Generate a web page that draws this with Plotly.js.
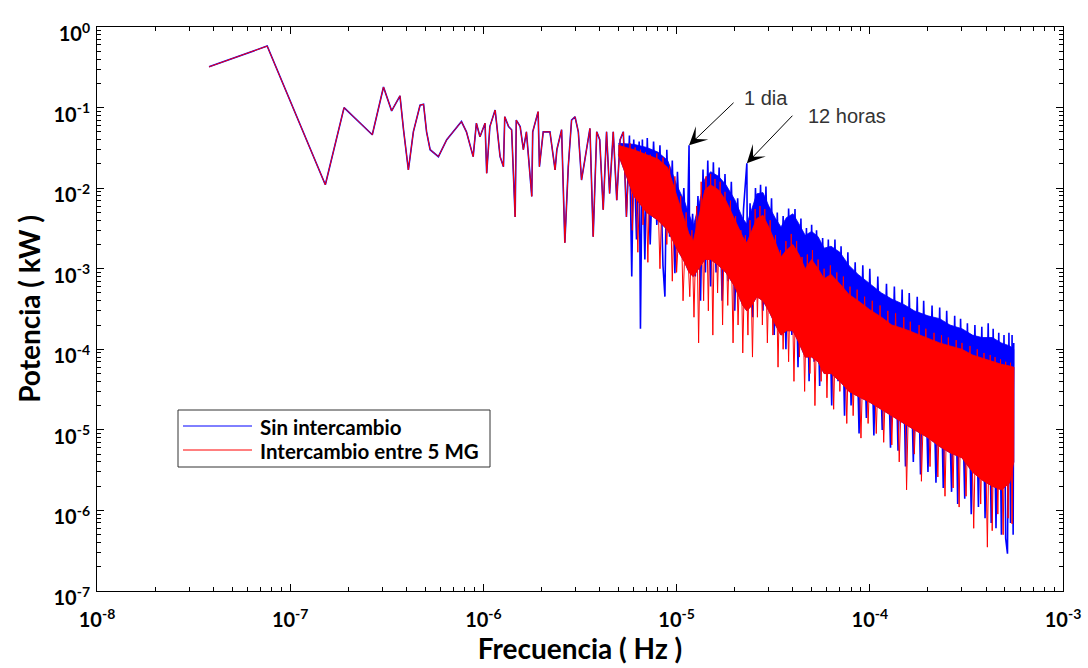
<!DOCTYPE html>
<html>
<head>
<meta charset="utf-8">
<script src="https://cdn.plot.ly/plotly-3.0.1.min.js"></script>
<style>html,body{margin:0;padding:0;background:#fff;}#chart{width:1088px;height:668px;}</style>
</head>
<body>
<div id="chart"></div>
<script>
// ---- data ----
const seriesNames = ['Sin intercambio', 'Intercambio entre 5 MG'];
const xTickVals = [1e-8, 1e-7, 1e-6, 1e-5, 1e-4, 1e-3];
const xTickText = ['10<sup>-8</sup>', '10<sup>-7</sup>', '10<sup>-6</sup>', '10<sup>-5</sup>', '10<sup>-4</sup>', '10<sup>-3</sup>'];
const yTickVals = [1e-7, 1e-6, 1e-5, 1e-4, 1e-3, 1e-2, 1e-1, 1];
const yTickText = ['10<sup>-7</sup>', '10<sup>-6</sup>', '10<sup>-5</sup>', '10<sup>-4</sup>', '10<sup>-3</sup>', '10<sup>-2</sup>', '10<sup>-1</sup>', '10<sup>0</sup>'];

// low-frequency part, where both series coincide
const lowF = [3.8e-8, 7.6e-8, 1.52e-7, 1.9e-7, 2.66e-7, 3.04e-7, 3.35e-7, 3.7e-7, 3.86e-7, 4.09e-7, 4.34e-7, 4.7e-7, 4.9e-7, 5.08e-7, 5.3e-7, 5.85e-7, 6.46e-7, 6.98e-7, 7.7e-7, 8.17e-7, 8.5e-7, 8.85e-7, 9.2e-7, 9.6e-7, 1.02e-6, 1.04e-6, 1.08e-6, 1.15e-6, 1.17e-6, 1.22e-6, 1.27e-6, 1.29e-6, 1.35e-6, 1.4e-6, 1.46e-6, 1.48e-6, 1.55e-6, 1.61e-6, 1.67e-6, 1.78e-6, 1.8e-6, 1.92e-6, 1.95e-6, 2.04e-6, 2.21e-6, 2.35e-6, 2.4e-6, 2.54e-6, 2.64e-6, 2.75e-6, 2.86e-6, 2.98e-6, 3.1e-6, 3.22e-6, 3.35e-6, 3.56e-6, 3.7e-6, 3.86e-6, 4.0e-6, 4.17e-6, 4.34e-6, 4.5e-6, 4.7e-6, 4.9e-6, 5.1e-6, 5.3e-6];
const lowP = [0.32, 0.58, 0.011, 0.10, 0.046, 0.18, 0.091, 0.14, 0.053, 0.0168, 0.05, 0.107, 0.11, 0.05, 0.030, 0.0246, 0.040, 0.05, 0.067, 0.05, 0.036, 0.0246, 0.064, 0.0435, 0.064, 0.0153, 0.058, 0.093, 0.064, 0.0246, 0.0185, 0.077, 0.058, 0.053, 0.0044, 0.070, 0.058, 0.030, 0.05, 0.0079, 0.05, 0.089, 0.0185, 0.05, 0.05, 0.0168, 0.030, 0.053, 0.0021, 0.0185, 0.070, 0.077, 0.05, 0.0126, 0.0224, 0.055, 0.0025, 0.05, 0.040, 0.0054, 0.05, 0.0086, 0.05, 0.0071, 0.04, 0.05];

// dense part, "Sin intercambio" (blue)
const sinF = [5.5e-6, 5.7e-6, 5.86e-6, 6.0e-6, 6.2e-6, 6.4e-6, 6.5e-6, 6.65e-6, 6.85e-6, 7.05e-6, 7.3e-6, 7.6e-6, 7.9e-6, 8.2e-6, 8.5e-6, 8.7e-6, 8.9e-6, 9.2e-6, 9.5e-6, 9.8e-6, 1.01e-5, 1.05e-5, 1.09e-5, 1.13e-5, 1.16e-5, 1.17e-5, 1.21e-5, 1.25e-5, 1.29e-5, 1.33e-5, 1.37e-5, 1.41e-5, 1.45e-5, 1.5e-5, 1.55e-5, 1.6e-5, 1.66e-5, 1.72e-5, 1.78e-5, 1.85e-5, 1.92e-5, 2.0e-5, 2.07e-5, 2.15e-5, 2.22e-5, 2.31e-5, 2.33e-5, 2.4e-5, 2.48e-5, 2.56e-5, 2.64e-5, 2.72e-5, 2.8e-5, 2.9e-5, 3.0e-5, 3.1e-5, 3.2e-5, 3.32e-5, 3.44e-5, 3.56e-5, 3.68e-5, 3.8e-5, 3.95e-5, 4.1e-5, 4.25e-5, 4.4e-5, 4.55e-5, 4.7e-5, 4.85e-5, 5.0e-5, 5.15e-5, 5.3e-5, 5.5e-5, 5.7e-5, 5.9e-5, 6.1e-5, 6.35e-5, 6.6e-5, 6.85e-5, 7.1e-5, 7.4e-5, 7.7e-5, 8.0e-5, 8.4e-5, 8.8e-5, 9.2e-5, 9.6e-5, 1.0e-4, 1.05e-4, 1.1e-4, 1.16e-4, 1.22e-4, 1.28e-4, 1.34e-4, 1.4e-4, 1.47e-4, 1.53e-4, 1.6e-4, 1.68e-4, 1.76e-4, 1.83e-4, 1.9e-4, 2.0e-4, 2.1e-4, 2.2e-4, 2.3e-4, 2.4e-4, 2.5e-4, 2.65e-4, 2.75e-4, 2.85e-4, 2.95e-4, 3.1e-4, 3.2e-4, 3.35e-4, 3.5e-4, 3.65e-4, 3.8e-4, 3.95e-4, 4.1e-4, 4.25e-4, 4.35e-4, 4.5e-4, 4.65e-4, 4.8e-4, 4.95e-4, 5.05e-4, 5.16e-4, 5.25e-4, 5.35e-4, 5.45e-4, 5.52e-4, 5.56e-4];
const sinP = [0.0044, 0.045, 0.0008, 0.04, 0.0023, 0.038, 0.00018, 0.04, 0.0013, 0.042, 0.002, 0.038, 0.0035, 0.034, 0.0011, 0.00045, 0.03, 0.0025, 0.022, 0.00088, 0.016, 0.0015, 0.01, 0.0012, 0.034, 0.0009, 0.0048, 0.0008, 0.008, 0.0004, 0.017, 0.0009, 0.022, 0.0006, 0.021, 0.0009, 0.018, 0.0004, 0.015, 0.0007, 0.012, 0.0003, 0.0075, 0.0005, 0.0055, 0.0204, 0.0004, 0.0065, 0.00025, 0.01, 0.0005, 0.011, 0.0003, 0.0105, 0.0004, 0.0075, 0.00015, 0.005, 0.0002, 0.0045, 0.0001, 0.0056, 0.00015, 0.0055, 0.00006, 0.0042, 0.00009, 0.0032, 0.00004, 0.0035, 0.00007, 0.003, 0.000035, 0.0024, 0.00005, 0.0023, 0.00002, 0.0023, 0.00004, 0.0019, 0.000015, 0.0016, 0.00002, 0.0012, 0.000009, 0.0011, 0.000014, 0.001, 0.0000085, 0.0008, 0.00001, 0.00065, 0.000006, 0.0006, 0.0000055, 0.00055, 0.0000035, 0.0005, 0.000004, 0.00045, 0.0000028, 0.0004, 0.000003, 0.00035, 0.0000022, 0.00033, 0.0000019, 0.0003, 0.0000017, 0.00026, 0.0000012, 0.00024, 0.0000014, 0.00021, 0.0000009, 0.0002, 0.0000011, 0.00019, 0.0000008, 0.00021, 0.0000007, 0.00018, 0.0000006, 0.00016, 0.0000005, 0.00015, 0.00000045, 0.00000029, 0.00016, 0.0000007, 0.00015, 0.0000005, 0.00012];

// dense part, "Intercambio entre 5 MG" (red)
const conF = [5.5e-6, 5.74e-6, 5.9e-6, 6.1e-6, 6.3e-6, 6.5e-6, 6.7e-6, 6.9e-6, 7.1e-6, 7.3e-6, 7.6e-6, 7.9e-6, 8.2e-6, 8.5e-6, 8.9e-6, 9.2e-6, 9.5e-6, 9.8e-6, 1.0e-5, 1.05e-5, 1.08e-5, 1.12e-5, 1.17e-5, 1.2e-5, 1.23e-5, 1.27e-5, 1.3e-5, 1.34e-5, 1.38e-5, 1.42e-5, 1.46e-5, 1.5e-5, 1.54e-5, 1.58e-5, 1.63e-5, 1.68e-5, 1.73e-5, 1.78e-5, 1.84e-5, 1.9e-5, 1.96e-5, 2.02e-5, 2.08e-5, 2.15e-5, 2.2e-5, 2.27e-5, 2.34e-5, 2.4e-5, 2.47e-5, 2.55e-5, 2.62e-5, 2.7e-5, 2.78e-5, 2.86e-5, 2.95e-5, 3.05e-5, 3.15e-5, 3.25e-5, 3.35e-5, 3.45e-5, 3.56e-5, 3.68e-5, 3.8e-5, 3.92e-5, 4.05e-5, 4.18e-5, 4.32e-5, 4.46e-5, 4.6e-5, 4.75e-5, 4.9e-5, 5.05e-5, 5.2e-5, 5.4e-5, 5.6e-5, 5.8e-5, 6.0e-5, 6.25e-5, 6.5e-5, 6.75e-5, 7.0e-5, 7.3e-5, 7.6e-5, 7.9e-5, 8.2e-5, 8.6e-5, 9.0e-5, 9.4e-5, 9.8e-5, 1.03e-4, 1.08e-4, 1.13e-4, 1.18e-4, 1.24e-4, 1.3e-4, 1.36e-4, 1.42e-4, 1.5e-4, 1.55e-4, 1.62e-4, 1.7e-4, 1.8e-4, 1.85e-4, 1.95e-4, 2.05e-4, 2.15e-4, 2.25e-4, 2.35e-4, 2.45e-4, 2.55e-4, 2.7e-4, 2.8e-4, 2.9e-4, 3.0e-4, 3.15e-4, 3.3e-4, 3.45e-4, 3.6e-4, 3.75e-4, 3.9e-4, 4.06e-4, 4.2e-4, 4.3e-4, 4.45e-4, 4.6e-4, 4.75e-4, 4.9e-4, 5.05e-4, 5.2e-4, 5.35e-4, 5.45e-4, 5.56e-4];
const conP = [0.0044, 0.036, 0.003, 0.032, 0.0016, 0.03, 0.0035, 0.028, 0.0012, 0.026, 0.0054, 0.027, 0.001, 0.024, 0.002, 0.019, 0.0007, 0.014, 0.0009, 0.008, 0.0004, 0.005, 0.00045, 0.003, 0.00025, 0.006, 0.00012, 0.012, 0.0004, 0.014, 0.0003, 0.015, 0.00015, 0.013, 0.0005, 0.012, 0.0002, 0.009, 0.00035, 0.007, 0.00012, 0.0045, 0.0002, 0.003, 0.00009, 0.0026, 0.00015, 0.004, 0.00008, 0.0055, 0.00025, 0.006, 0.0002, 0.0055, 0.00012, 0.004, 0.00015, 0.0026, 0.00006, 0.0017, 0.0001, 0.0022, 0.00007, 0.0027, 0.00004, 0.0022, 0.00008, 0.0014, 0.00003, 0.0015, 0.00005, 0.0017, 0.00002, 0.0013, 0.00004, 0.001, 0.000025, 0.0011, 0.000018, 0.0009, 0.00003, 0.0008, 0.000012, 0.0006, 0.000015, 0.00055, 0.0000079, 0.00045, 0.000012, 0.0004, 0.000009, 0.00035, 0.000007, 0.0003, 0.0000065, 0.00028, 0.000004, 0.00025, 0.0000018, 0.00022, 0.000005, 0.0002, 0.0000023, 0.00018, 0.0000035, 0.00016, 0.0000026, 0.00015, 0.0000015, 0.00014, 0.0000019, 0.00013, 0.0000011, 0.00012, 0.0000015, 0.00011, 0.0000006, 0.0001, 0.0000012, 0.00009, 0.00000035, 0.000085, 0.00000056, 0.00008, 0.0000009, 0.000075, 0.0000005, 0.00007, 0.0000008, 0.000068, 0.00000068, 0.00006];

// solid core of the dense band (upper edge of each colour, lower edge of the red band)
const bandF = [5e-6, 6e-6, 7e-6, 8e-6, 9e-6, 1.0e-5, 1.1e-5, 1.16e-5, 1.22e-5, 1.3e-5, 1.4e-5, 1.5e-5, 1.65e-5, 1.8e-5, 2.0e-5, 2.2e-5, 2.31e-5, 2.45e-5, 2.6e-5, 2.8e-5, 3.0e-5, 3.25e-5, 3.47e-5, 3.7e-5, 4.0e-5, 4.3e-5, 4.63e-5, 5.0e-5, 5.4e-5, 5.8e-5, 6.3e-5, 7.0e-5, 7.8e-5, 8.7e-5, 1.0e-4, 1.15e-4, 1.3e-4, 1.5e-4, 1.7e-4, 2.0e-4, 2.3e-4, 2.6e-4, 3.0e-4, 3.4e-4, 3.8e-4, 4.3e-4, 4.8e-4, 5.3e-4, 5.56e-4];
const sinHi = [0.036, 0.035, 0.032, 0.028, 0.022, 0.011, 0.0068, 0.0048, 0.0034, 0.006, 0.013, 0.016, 0.014, 0.011, 0.0072, 0.0042, 0.0036, 0.0055, 0.0085, 0.0088, 0.006, 0.0042, 0.0033, 0.0043, 0.0048, 0.0036, 0.0026, 0.0029, 0.0025, 0.0018, 0.0019, 0.0016, 0.0011, 0.00085, 0.00065, 0.0005, 0.00042, 0.00036, 0.0003, 0.00026, 0.00024, 0.0002, 0.00018, 0.00015, 0.00014, 0.00014, 0.00012, 0.00011, 0.0001];
const conHi = [0.034, 0.03, 0.026, 0.023, 0.018, 0.008, 0.0038, 0.0027, 0.0022, 0.0042, 0.0095, 0.011, 0.0095, 0.007, 0.004, 0.0025, 0.0021, 0.003, 0.0042, 0.0046, 0.0033, 0.0021, 0.0014, 0.0017, 0.002, 0.0015, 0.001, 0.0013, 0.001, 0.00075, 0.00085, 0.00065, 0.00048, 0.0004, 0.00031, 0.00025, 0.0002, 0.00018, 0.00016, 0.00014, 0.00012, 0.00011, 0.0001, 0.000085, 0.000078, 0.00007, 0.000065, 0.000062, 0.00006];
const conLo = [0.026, 0.008, 0.005, 0.004, 0.003, 0.0018, 0.0012, 0.0009, 0.0008, 0.001, 0.0013, 0.0013, 0.0011, 0.0009, 0.0006, 0.00035, 0.0003, 0.00035, 0.00045, 0.0004, 0.0003, 0.0002, 0.00015, 0.00017, 0.00017, 0.00012, 0.00008, 0.00008, 0.00007, 0.00005, 0.00005, 0.00004, 0.00003, 0.000026, 0.000022, 0.000018, 0.000015, 0.000012, 0.00001, 0.000008, 0.0000062, 0.0000052, 0.0000045, 0.000003, 0.0000024, 0.000002, 0.0000018, 0.0000022, 0.000004];

// labelled peaks (frequency of the daily and half-daily spike in sinF)
const peakLabels = ['1 dia', '12 horas'];
const peakFreqs = [1.16e-5, 2.31e-5];

// ---- build traces ----
const blue = '#0000ff', red = '#ff0000';
function poly(f, hi, lo) {
  return { x: f.concat(f.slice().reverse()), y: hi.concat(lo.slice().reverse()) };
}
const bS = poly(bandF, sinHi, conLo), bC = poly(bandF, conHi, conLo);
const traces = [
  { x: bS.x, y: bS.y, type: 'scatter', mode: 'lines', fill: 'toself', fillcolor: blue,
    line: { color: blue, width: 0.8 }, showlegend: false, hoverinfo: 'skip' },
  { x: lowF.concat(sinF), y: lowP.concat(sinP), type: 'scatter', mode: 'lines',
    name: seriesNames[0], line: { color: blue, width: 1.6 }, showlegend: false },
  { x: bC.x, y: bC.y, type: 'scatter', mode: 'lines', fill: 'toself', fillcolor: red,
    line: { color: red, width: 0.8 }, showlegend: false, hoverinfo: 'skip' },
  { x: lowF.concat(conF), y: lowP.concat(conP), type: 'scatter', mode: 'lines',
    name: seriesNames[1], line: { color: red, width: 1 }, showlegend: false }
];

// ---- plot geometry (pixels) ----
const W = 1088, H = 668, L = 97, R = 25, T = 27, B = 77;
const pw = W - L - R, ph = H - T - B;
const px = x => (x - L) / pw, py = y => (H - B - y) / ph;

const font = 'Lato, "Open Sans", Arial, sans-serif';
const axisCommon = {
  type: 'log', showline: true, linecolor: '#000', linewidth: 1, mirror: 'allticks',
  ticks: 'inside', ticklen: 7, tickwidth: 1, tickcolor: '#000', tickmode: 'array',
  showgrid: false, zeroline: false,
  tickfont: { family: font, size: 20, color: '#000', weight: 'bold' },
  minor: { ticks: 'inside', ticklen: 4, tickwidth: 1, tickcolor: '#000', dtick: 'D1', showgrid: false }
};

const annotations = [];
const tails = [[46, -44], [47, -49]];
peakFreqs.forEach((f, k) => {
  const i = sinF.indexOf(f);
  annotations.push({
    x: Math.log10(sinF[i]), y: Math.log10(sinP[i]), xref: 'x', yref: 'y',
    text: '', showarrow: true, arrowhead: 3, arrowsize: 3, arrowwidth: 1,
    arrowcolor: '#000', ax: tails[k][0], ay: tails[k][1]
  });
});
const noteFont = { family: 'Liberation Sans, Arial, sans-serif', size: 20, color: '#333' };
annotations.push({ x: px(742), y: py(98), xref: 'paper', yref: 'paper', xanchor: 'left', yanchor: 'middle',
  text: peakLabels[0], showarrow: false, font: noteFont });
annotations.push({ x: px(806), y: py(116), xref: 'paper', yref: 'paper', xanchor: 'left', yanchor: 'middle',
  text: peakLabels[1], showarrow: false, font: noteFont });
// legend texts
const legFont = { family: font, size: 20.5, color: '#000', weight: 'bold' };
annotations.push({ x: px(258), y: py(427), xref: 'paper', yref: 'paper', xanchor: 'left', yanchor: 'middle',
  text: seriesNames[0], showarrow: false, font: legFont });
annotations.push({ x: px(258), y: py(451), xref: 'paper', yref: 'paper', xanchor: 'left', yanchor: 'middle',
  text: seriesNames[1], showarrow: false, font: legFont });

const shapes = [
  { type: 'rect', xref: 'paper', yref: 'paper', x0: px(178), x1: px(490), y0: py(467), y1: py(410),
    line: { color: '#333', width: 1 }, fillcolor: '#fff', layer: 'above' },
  { type: 'line', xref: 'paper', yref: 'paper', x0: px(183), x1: px(252), y0: py(426), y1: py(426),
    line: { color: blue, width: 1 }, layer: 'above' },
  { type: 'line', xref: 'paper', yref: 'paper', x0: px(183), x1: px(252), y0: py(450), y1: py(450),
    line: { color: red, width: 1 }, layer: 'above' }
];

const layout = {
  width: W, height: H, margin: { l: L, r: R, t: T, b: B },
  paper_bgcolor: '#fff', plot_bgcolor: '#fff', showlegend: false,
  xaxis: Object.assign({}, axisCommon, { range: [-8, -3], tickvals: xTickVals, ticktext: xTickText,
    ticklabelstandoff: 11,
    title: { text: 'Frecuencia ( Hz )', standoff: 4, font: { family: font, size: 28, color: '#000', weight: 'bold' } } }),
  yaxis: Object.assign({}, axisCommon, { range: [-7, 0], tickvals: yTickVals, ticktext: yTickText,
    ticklabelstandoff: 2, ticklabelshift: 7,
    title: { text: 'Potencia ( kW )', standoff: 4, font: { family: font, size: 28, color: '#000', weight: 'bold' } } }),
  annotations: annotations, shapes: shapes
};

Plotly.newPlot('chart', traces, layout, { staticPlot: true, displayModeBar: false });
</script>
</body>
</html>
